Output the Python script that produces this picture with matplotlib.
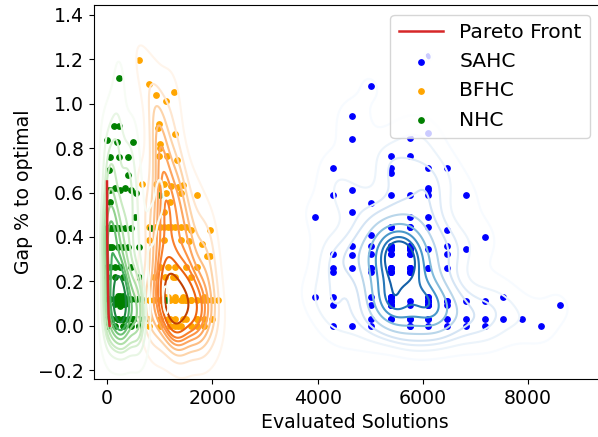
import numpy as np
import matplotlib
matplotlib.use("Agg")
import matplotlib.pyplot as plt
import seaborn as sns

# Pareto front (evaluated solutions, gap %)
pareto_x = [0, 5, 10, 20, 30, 50]
pareto_y = [0.65, 0.40, 0.30, 0.15, 0.05, 0.0]

# SAHC runs
sahc_x = [5014, 4661, 4661, 6101, 6101, 5750,
          5391, 5750,
          4302, 5391, 5391, 6101, 6454,
          4661, 4302, 5391, 5750, 6101, 6101, 6101, 6826,
          5014, 4661, 3944, 5750, 6101,
          5391, 5750, 6101, 6454, 5014, 7176,
          4661, 5014, 5014, 5391, 5750, 6101, 6454, 6454, 6826, 4302, 4661,
          4302, 4302, 4661, 5014, 5391, 5750, 6101, 6454, 5014,
          3944, 4302, 4302, 5014, 5014, 5391, 5391, 5750, 5750, 6101, 6101,
          6454, 6454, 6826, 7176, 7529, 8610,
          5014, 5391, 5750, 6101, 6454, 6826, 7176, 7529, 7888,
          4302, 4661, 5014, 5750, 6101, 6454, 6826, 7176, 8252,
          # repeated runs
          5391, 5391, 5391, 5391, 5391, 5391, 5391, 5391,
          5750, 5750, 5750, 5750, 5750, 5750, 5750, 5750,
          5391, 5391, 5391, 5391, 5391, 5391,
          5750, 5750, 5750, 5750, 5750, 5750,
          5391, 5391, 5391, 5391, 5391, 5391, 5391, 5391, 5391, 5391,
          6101, 6101, 6101, 6101, 6101, 6101, 6101, 6101, 6101,
          5391, 5750, 6101, 5391, 5750, 5014, 5750, 6101, 6454]
sahc_y = [1.08, 0.945, 0.84, 1.215, 0.867, 0.845,
          0.763, 0.763,
          0.709, 0.709, 0.69, 0.709, 0.709,
          0.61, 0.587, 0.587, 0.587, 0.62, 0.61, 0.587, 0.587,
          0.552, 0.512, 0.492, 0.492, 0.492,
          0.444, 0.444, 0.444, 0.43, 0.41, 0.402,
          0.358, 0.358, 0.324, 0.346, 0.346, 0.346, 0.358, 0.324, 0.346, 0.324, 0.32,
          0.26, 0.24, 0.26, 0.26, 0.26, 0.26, 0.26, 0.26, 0.24,
          0.131, 0.131, 0.095, 0.131, 0.095, 0.131, 0.095, 0.113, 0.095, 0.113, 0.095,
          0.113, 0.095, 0.113, 0.113, 0.131, 0.095,
          0.03, 0.03, 0.03, 0.03, 0.03, 0.03, 0.03, 0.03, 0.03,
          0.0, 0.0, 0.0, 0.0, 0.0, 0.0, 0.0, 0.0, 0.0,
          0.346, 0.358, 0.324, 0.346, 0.358, 0.324, 0.346, 0.358,
          0.346, 0.358, 0.324, 0.346, 0.358, 0.324, 0.346, 0.358,
          0.26, 0.24, 0.26, 0.24, 0.26, 0.24,
          0.26, 0.24, 0.26, 0.24, 0.26, 0.24,
          0.113, 0.131, 0.095, 0.113, 0.131, 0.095, 0.113, 0.095, 0.131, 0.113,
          0.113, 0.095, 0.113, 0.131, 0.095, 0.113, 0.095, 0.131, 0.113,
          0.03, 0.03, 0.03, 0.444, 0.444, 0.26, 0.0, 0.26, 0.113]

# BFHC runs
bfhc_x = [610, 798, 925, 1270, 1113, 981, 960, 1283, 1000, 1000, 981, 1132, 1327,
          660, 925, 1075, 1220, 1340, 1450, 1000,
          1700, 1130, 1400, 1200, 1075, 1962,
          800, 925, 1000, 1075, 1150, 1220, 1300, 1400, 1500, 1600,
          800, 1075, 1400, 1550, 1800, 1900, 1950,
          1000, 1150, 1300, 1500, 1700,
          900, 1100, 1300, 1600,
          700, 800, 900, 1150, 1300, 1400, 1500, 1600, 1700, 1800, 1900, 2000, 2100, 1850,
          800, 1000, 1200, 1500, 1700, 1850, 2000,
          800, 1000, 1200, 1400, 1600, 1700, 1850,
          # repeated runs
          1150, 1150, 1300, 1300, 1450, 1450, 1150, 1300, 1450,
          1000, 1200, 1300, 1100, 1500, 1250, 1350, 1600, 1700]
bfhc_y = [1.199, 1.088, 1.04, 1.054, 1.013, 0.908, 0.89, 0.866, 0.82, 0.80, 0.763, 0.763, 0.748,
          0.64, 0.64, 0.64, 0.63, 0.625, 0.635, 0.62,
          0.59, 0.60, 0.60, 0.557, 0.512, 0.43,
          0.444, 0.444, 0.444, 0.444, 0.444, 0.444, 0.444, 0.444, 0.444, 0.43,
          0.384, 0.384, 0.384, 0.38, 0.37, 0.316, 0.316,
          0.263, 0.263, 0.263, 0.263, 0.263,
          0.218, 0.218, 0.218, 0.218,
          0.116, 0.116, 0.116, 0.116, 0.116, 0.116, 0.116, 0.116, 0.116, 0.116, 0.116, 0.116, 0.116, 0.131,
          0.03, 0.03, 0.03, 0.03, 0.03, 0.03, 0.03,
          0.0, 0.0, 0.0, 0.0, 0.0, 0.0, 0.0,
          0.116, 0.131, 0.116, 0.131, 0.116, 0.03, 0.03, 0.0, 0.131,
          0.116, 0.116, 0.03, 0.131, 0.116, 0.218, 0.0, 0.116, 0.03]

# NHC runs
nhc_x = [233, 132, 233, 6, 182, 497, 50, 220, 400, 30, 400,
         0, 60, 150, 250, 350, 450, 560,
         50, 530, 1013,
         0, 50, 100, 150, 200, 250, 350, 450, 843,
         0, 100, 200, 300, 400, 600,
         50, 150, 250, 450,
         0, 150, 300, 600,
         50, 150, 200, 250, 300, 350, 450, 550, 650, 1120,
         0, 100, 200, 300, 400, 500, 600, 700,
         0, 150, 300, 450, 600,
         # repeated runs
         250, 250, 200, 300, 250, 150, 300, 200, 350, 250,
         200, 300, 400, 100, 0, 0, 0, 20, 20, 100, 50, 500, 550, 600]
nhc_y = [1.114, 0.899, 0.899, 0.839, 0.828, 0.828, 0.76, 0.76, 0.76, 0.70, 0.68,
         0.61, 0.61, 0.62, 0.61, 0.62, 0.61, 0.60,
         0.557, 0.489, 0.59,
         0.44, 0.44, 0.44, 0.44, 0.44, 0.44, 0.44, 0.44, 0.44,
         0.353, 0.353, 0.353, 0.353, 0.353, 0.353,
         0.263, 0.263, 0.263, 0.263,
         0.218, 0.218, 0.218, 0.218,
         0.12, 0.12, 0.12, 0.12, 0.12, 0.12, 0.12, 0.12, 0.12, 0.116,
         0.03, 0.03, 0.03, 0.03, 0.03, 0.03, 0.03, 0.03,
         0.0, 0.0, 0.0, 0.0, 0.0,
         0.12, 0.10, 0.12, 0.10, 0.135, 0.10, 0.135, 0.135, 0.10, 0.09,
         0.03, 0.03, 0.12, 0.03, 0.44, 0.353, 0.263, 0.12, 0.03, 0.44, 0.353, 0.03, 0.12, 0.0]

plt.rcParams["font.size"] = 13.6

fig, ax = plt.subplots(figsize=(5.98, 4.37), dpi=100)
# axes runs a little past the right edge of the saved picture
fig.subplots_adjust(left=94 / 598, right=616 / 598, top=1 - 5 / 437, bottom=1 - 379 / 437)

ax.plot(pareto_x, pareto_y, color="tab:red", linewidth=1.8, label="Pareto Front", zorder=5)

ax.scatter(sahc_x, sahc_y, s=15, color="blue", label="SAHC")
sns.kdeplot(x=sahc_x, y=sahc_y, cmap="Blues", bw_adjust=0.8, ax=ax)
ax.scatter(bfhc_x, bfhc_y, s=15, color="orange", label="BFHC")
sns.kdeplot(x=bfhc_x, y=bfhc_y, cmap="Oranges", bw_adjust=0.9, ax=ax)
ax.scatter(nhc_x, nhc_y, s=15, color="green", label="NHC")
sns.kdeplot(x=nhc_x, y=nhc_y, cmap="Greens", bw_adjust=0.9, ax=ax)

ax.set_xlim(-247, 9668)
ax.set_ylim(-0.24, 1.445)
ax.set_xticks([0, 2000, 4000, 6000, 8000])
ax.set_xlabel("Evaluated Solutions")
ax.set_ylabel("Gap % to optimal")
ax.legend(loc="upper right", bbox_to_anchor=(0.950, 0.973), borderaxespad=0,
          fontsize=14.6, handlelength=2.2)

plt.savefig("out.png", dpi=100)
plt.close()
